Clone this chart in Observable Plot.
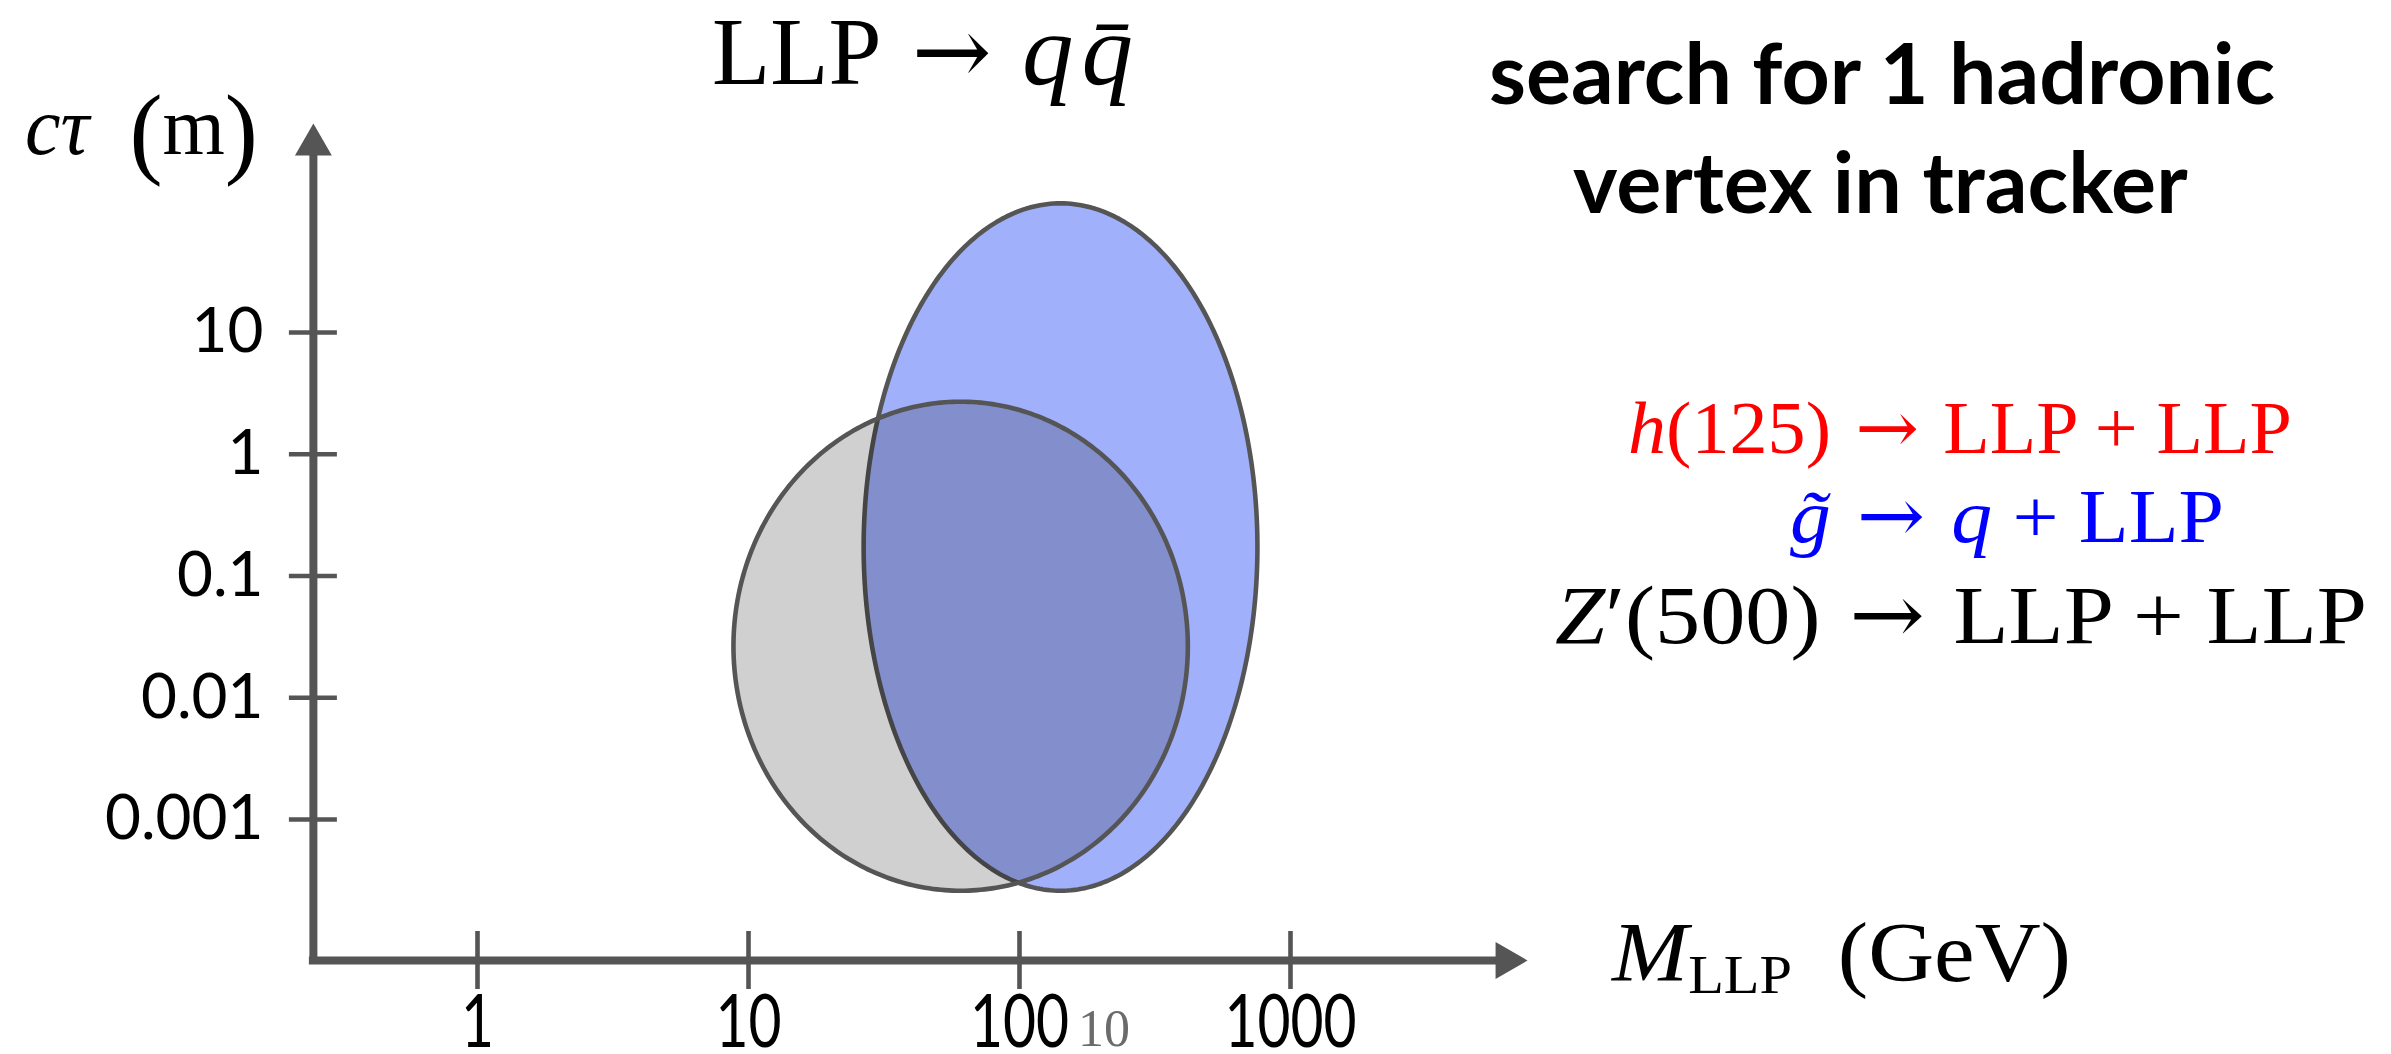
<!DOCTYPE html>
<html>
<head>
<meta charset="utf-8">
<script src="https://cdn.jsdelivr.net/npm/d3@7"></script>
<script src="https://cdn.jsdelivr.net/npm/@observablehq/plot@0.6"></script>
<style>
  html, body { margin: 0; padding: 0; background: #fff; }
  #chart { width: 2391px; height: 1054px; overflow: hidden; }
  #chart svg { display: block; }
</style>
</head>
<body>
<div id="chart"></div>
<script>
// LLP mass ticks (GeV) and proper decay length ticks (m)
const massTicks = [1, 10, 100, 1000];
const ctauTicks = [0.001, 0.01, 0.1, 1, 10];
const ctauTickLabels = ["0.001", "0.01", "0.1", "1", "10"];

// Axis extents: [origin, arrow tip]
const massAxis = [0.248, 7500];
const ctauAxis = [6.95e-5, 521];

// Sensitivity regions of the displaced-vertex search, as mass and cτ ranges
const regionNames = ["gluino", "zprime"];
const regionMassLow = [26.6, 8.8];
const regionMassHigh = [755, 418];
const regionCtauLow = [2.6e-4, 2.6e-4];
const regionCtauHigh = [115, 2.7];

const AXIS = "#555555";
const SANS = "Lato, 'Open Sans', sans-serif";
const SERIF = "'Liberation Serif', 'DejaVu Serif', serif";
const ARROW_FONT = "'DejaVu Serif', serif";

// Each region is an ellipse inscribed in its (log mass, log cτ) box
function outline(i, steps = 360) {
  const lx0 = Math.log10(regionMassLow[i]), lx1 = Math.log10(regionMassHigh[i]);
  const ly0 = Math.log10(regionCtauLow[i]), ly1 = Math.log10(regionCtauHigh[i]);
  const cx = (lx0 + lx1) / 2, rx = (lx1 - lx0) / 2;
  const cy = (ly0 + ly1) / 2, ry = (ly1 - ly0) / 2;
  return d3.range(steps).map(k => {
    const t = 2 * Math.PI * k / steps;
    return {region: regionNames[i], mass: 10 ** (cx + rx * Math.cos(t)), ctau: 10 ** (cy + ry * Math.sin(t))};
  });
}
const gluinoOutline = outline(0);
const zprimeOutline = outline(1);

const plot = Plot.plot({
  width: 2391,
  height: 1054,
  marginLeft: 313,
  marginBottom: 94,
  marginTop: 0,
  marginRight: 0,
  style: {background: "white", fontFamily: SANS, fontSize: "60px", color: "black"},
  x: {
    type: "log", domain: [1, 1000], range: [477, 1290],
    ticks: massTicks, tickFormat: d => String(d),
    tickSize: 0, tickPadding: 35, label: null
  },
  y: {
    type: "log", domain: [0.001, 10], range: [819, 332],
    ticks: ctauTicks, tickFormat: d => ctauTickLabels[ctauTicks.indexOf(d)],
    tickSize: 0, tickPadding: 50, label: null
  },
  marks: [
    Plot.line(gluinoOutline, {
      x: "mass", y: "ctau", curve: "linear-closed",
      fill: "#a1b0fb", stroke: AXIS, strokeWidth: 4.6
    }),
    Plot.line(zprimeOutline, {
      x: "mass", y: "ctau", curve: "linear-closed",
      fill: "black", fillOpacity: 0.185, stroke: AXIS, strokeWidth: 4.6
    }),
    // axis lines
    Plot.ruleY([ctauAxis[0]], {
      x1: () => massAxis[0], x2: () => massAxis[1], insetRight: 30,
      stroke: AXIS, strokeWidth: 8, strokeLinecap: "square"
    }),
    Plot.ruleX([massAxis[0]], {
      y1: () => ctauAxis[1], y2: () => ctauAxis[0], insetTop: 30,
      stroke: AXIS, strokeWidth: 8, strokeLinecap: "square"
    }),
    // tick marks crossing the axes
    Plot.ruleX(massTicks, {
      x: d => d, y1: () => ctauAxis[0], y2: () => ctauAxis[0],
      insetTop: -29, insetBottom: -29, stroke: AXIS, strokeWidth: 4.6
    }),
    Plot.ruleY(ctauTicks, {
      y: d => d, x1: () => massAxis[0], x2: () => massAxis[0],
      insetLeft: -24, insetRight: -24, stroke: AXIS, strokeWidth: 4.6
    }),
    // arrow heads
    Plot.dot([{mass: massAxis[1], ctau: ctauAxis[0]}], {
      x: "mass", y: "ctau", symbol: "triangle", r: 13.7, rotate: 90, dx: -21.4,
      fill: AXIS, stroke: null
    }),
    Plot.dot([{mass: massAxis[0], ctau: ctauAxis[1]}], {
      x: "mass", y: "ctau", symbol: "triangle", r: 13.7, dy: 21.4,
      fill: AXIS, stroke: null
    })
  ]
});

document.getElementById("chart").appendChild(plot);
const svg = d3.select(plot);

// tick label typography
svg.selectAll('[aria-label^="y-axis"] text')
  .attr("font-family", SANS).attr("font-size", 62).attr("fill", "black");
svg.selectAll('[aria-label^="x-axis"] text')
  .attr("font-family", SANS).attr("font-size", 73).attr("fill", "black")
  .each(function() {
    const b = this.getBBox();
    const cx = b.x + b.width / 2;
    const prev = this.getAttribute("transform") || "";
    this.setAttribute("transform", `${prev} translate(${cx},0) scale(0.78,1) translate(${-cx},0)`);
  });

// Rich-text annotations, each fitted between a left and right edge on its baseline
function addLabel(parts, o) {
  const t = svg.append("text")
    .attr("font-family", o.family)
    .attr("font-size", o.size)
    .attr("font-weight", o.weight || null)
    .attr("fill", o.color || "black")
    .style("white-space", "pre");
  for (const p of parts) {
    const s = t.append("tspan").text(p.text);
    if (p.italic) s.attr("font-style", "italic");
    if (p.family) s.attr("font-family", p.family);
    if (p.scale) s.attr("font-size", o.size * p.scale);
    if (p.dx) s.attr("dx", p.dx);
    if (p.dy) s.attr("dy", p.dy);
  }
  const b = t.node().getBBox();
  const sx = (o.right - o.left) / b.width;
  t.attr("transform", `translate(${o.left - b.x * sx},${o.baseline}) scale(${sx},1)`);
  return t;
}
const arrow = {text: " \u2192 ", family: ARROW_FONT};

addLabel([{text: "LLP"}, arrow, {text: "q", italic: true, scale: 1.08}, {text: "q\u0304", italic: true, scale: 1.08, dx: 8}],
  {family: SERIF, size: 95, left: 712, right: 1133, baseline: 84});

addLabel([
    {text: "cτ", italic: true}, {text: "  "},
    {text: "(", scale: 1.24, dy: 11}, {text: "m", dy: -11},
    {text: ")", scale: 1.24, dy: 11}
  ],
  {family: SERIF, size: 82, left: 25, right: 258, baseline: 154});

addLabel([{text: "M", italic: true}, {text: "LLP", scale: 0.64, dy: 12}, {text: "  (GeV)", dy: -12}],
  {family: SERIF, size: 85, left: 1611, right: 2071, baseline: 981});

addLabel([{text: "search for 1 hadronic"}],
  {family: SANS, size: 85, weight: 700, left: 1489, right: 2275, baseline: 104});
addLabel([{text: "vertex in tracker"}],
  {family: SANS, size: 85, weight: 700, left: 1573, right: 2188, baseline: 213});

addLabel([{text: "h", italic: true}, {text: "(125)"}, arrow, {text: "LLP + LLP"}],
  {family: SERIF, size: 73, color: "#ff0000", left: 1628, right: 2292, baseline: 453});
addLabel([{text: "g\u0303", italic: true}, arrow, {text: "q", italic: true}, {text: " + LLP"}],
  {family: SERIF, size: 77, color: "#0000ff", left: 1790, right: 2224, baseline: 542});
addLabel([{text: "Z", italic: true}, {text: "\u2032(500)"}, arrow, {text: "LLP + LLP"}],
  {family: SERIF, size: 83, color: "black", left: 1555, right: 2367, baseline: 643});

// slide number
svg.append("text")
  .attr("x", 1104).attr("y", 1046)
  .attr("font-family", SERIF).attr("font-size", 52).attr("fill", "#6b6b6b")
  .text("10");
</script>
</body>
</html>
